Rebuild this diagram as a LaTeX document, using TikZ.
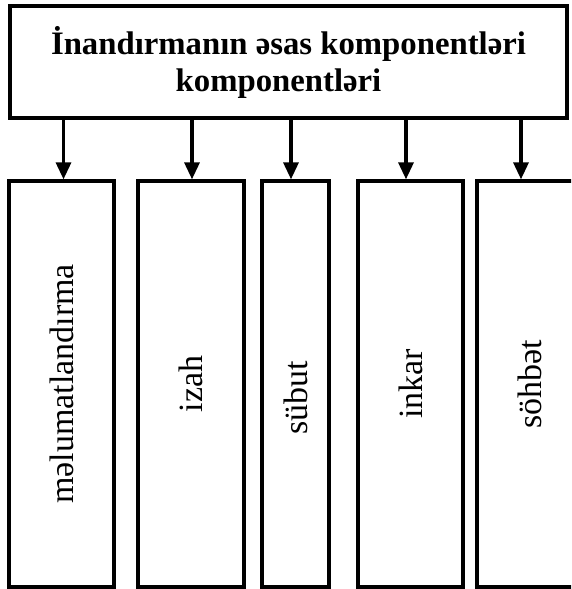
\documentclass[tikz,border=0pt]{standalone}
\usepackage{fontspec}
\setmainfont{Liberation Serif}
\usepackage{tikz}
\usetikzlibrary{arrows.meta,positioning}

\begin{document}
\begin{tikzpicture}[
  head/.style={draw, line width=3.3pt, minimum width=557pt, minimum height=112pt, align=center, inner sep=0pt, font=\bfseries\fontsize{32.75}{37}\selectfont},
  part/.style={draw, line width=3.3pt, minimum height=406pt, inner sep=0pt},
  word/.style={rotate=90, inner sep=0pt, font=\fontsize{34}{40}\selectfont},
  arr/.style={-{Triangle[length=17pt,width=15pt]}, line width=3.3pt}
]
\useasboundingbox (0,0) rectangle (571pt,-589pt);
\clip (0,0) rectangle (571pt,-589pt);

\node[head] (head) at (288.5pt,-62pt) {İnandırmanın əsas komponentləri\\komponentləri\hspace*{20pt}};

\node[part, minimum width=105pt] (b1) at (61.5pt,-384pt) {};
\node[part, minimum width=106pt] (b2) at (191pt,-384pt) {};
\node[part, minimum width=67pt] (b3) at (295.5pt,-384pt) {};
\node[part, minimum width=105pt] (b4) at (410.5pt,-384pt) {};
\node[part, minimum width=106pt] (b5) at (530pt,-384pt) {};

\node[word] (w1) at (b1.center) {məlumatlandırma};
\node[word] (w2) at (b2.center) {izah};
\node[word] (w3) at ([yshift=-14pt]b3.center) {sübut};
\node[word] (w4) at (b4.center) {inkar};
\node[word] (w5) at (b5.center) {söhbət};

\draw[arr] ([xshift=2pt]b1.north |- head.south) -- ([xshift=2pt]b1.north);
\draw[arr] ([xshift=1pt]b2.north |- head.south) -- ([xshift=1pt]b2.north);
\draw[arr] ([xshift=-4.5pt]b3.north |- head.south) -- ([xshift=-4.5pt]b3.north);
\draw[arr] ([xshift=-4.5pt]b4.north |- head.south) -- ([xshift=-4.5pt]b4.north);
\draw[arr] ([xshift=-9pt]b5.north |- head.south) -- ([xshift=-9pt]b5.north);
\end{tikzpicture}
\end{document}
